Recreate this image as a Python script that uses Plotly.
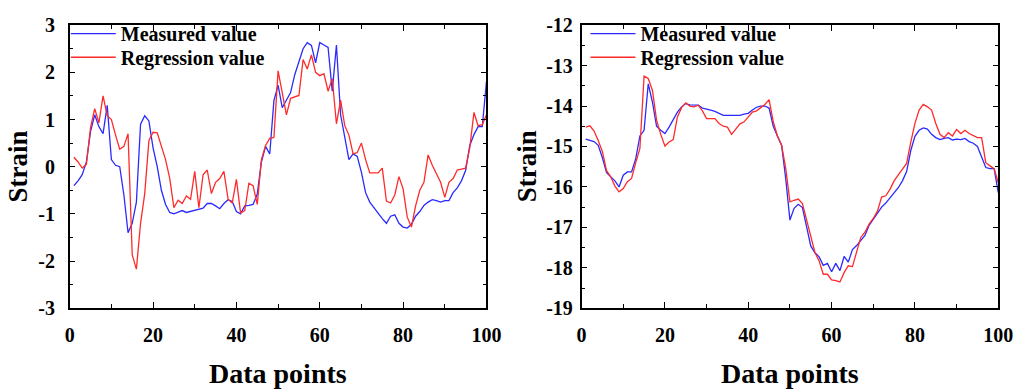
import plotly.graph_objects as go

x_points = list(range(1, 101))

left_measured = [-0.40, -0.30, -0.17, 0.10, 0.75, 1.10, 0.85, 0.70, 1.30, 0.15,
                 0.03, 0.00, -0.60, -1.40, -1.20, -0.75, 0.90, 1.08, 0.97, 0.40,
                 0.00, -0.50, -0.80, -0.97, -1.00, -0.96, -0.93, -0.97, -0.95, -0.93,
                 -0.91, -0.88, -0.78, -0.78, -0.83, -0.89, -0.78, -0.70, -0.74, -0.95,
                 -1.00, -0.83, -0.82, -0.80, -0.58, 0.10, 0.43, 0.27, 1.40, 1.73,
                 1.25, 1.42, 1.57, 1.95, 2.25, 2.50, 2.63, 2.57, 2.20, 2.63,
                 2.58, 2.53, 1.60, 2.58, 1.10, 0.63, 0.15, 0.27, 0.22, -0.12,
                 -0.55, -0.75, -0.87, -0.97, -1.10, -1.20, -1.05, -1.02, -1.20, -1.28,
                 -1.30, -1.22, -1.05, -0.95, -0.82, -0.75, -0.70, -0.72, -0.75, -0.72,
                 -0.72, -0.55, -0.45, -0.30, -0.08, 0.45, 0.68, 0.85, 0.85, 1.80]

left_regression = [0.20, 0.10, -0.03, 0.05, 0.83, 1.23, 0.93, 1.50, 1.08, 1.00,
                   0.67, 0.37, 0.43, 0.70, -1.87, -2.17, -1.20, -0.57, 0.55, 0.73,
                   0.72, 0.43, 0.15, -0.25, -0.87, -0.71, -0.78, -0.62, -0.69, -0.10,
                   -0.87, -0.17, -0.07, -0.57, -0.33, -0.25, -0.10, -0.69, -0.77, -0.27,
                   -0.98, -0.93, -0.35, -0.40, -0.80, 0.15, 0.45, 0.60, 0.62, 2.03,
                   1.55, 1.10, 1.45, 1.48, 1.51, 2.27, 2.07, 2.37, 2.00, 1.93,
                   1.97, 1.60, 1.87, 0.91, 1.41, 0.87, 0.67, 0.27, 0.30, 0.50,
                   0.15, -0.13, -0.13, -0.13, -0.03, -0.73, -0.77, -0.60, -0.21, -0.47,
                   -1.07, -1.28, -0.83, -0.50, -0.33, 0.25, 0.03, -0.15, -0.33, -0.65,
                   -0.33, -0.25, -0.07, -0.05, -0.03, 0.40, 1.15, 0.87, 0.89, 1.10]

right_measured = [-14.82, -14.85, -14.88, -14.97, -15.28, -15.65, -15.75, -15.85, -16.00, -15.71,
                  -15.63, -15.63, -15.30, -14.74, -14.60, -13.45, -13.90, -14.50, -14.60, -14.68,
                  -14.52, -14.33, -14.15, -14.02, -13.94, -13.97, -13.98, -13.98, -14.05, -14.07,
                  -14.10, -14.13, -14.18, -14.23, -14.23, -14.23, -14.23, -14.23, -14.20, -14.18,
                  -14.10, -14.03, -14.00, -14.00, -14.05, -14.50, -14.74, -14.97, -15.80, -16.82,
                  -16.53, -16.43, -16.51, -17.03, -17.46, -17.63, -17.73, -17.94, -17.89, -18.10,
                  -17.89, -18.07, -17.72, -17.86, -17.55, -17.45, -17.33, -17.20, -16.95, -16.80,
                  -16.62, -16.50, -16.40, -16.27, -16.15, -16.02, -15.85, -15.62, -15.10, -14.75,
                  -14.60, -14.54, -14.57, -14.70, -14.78, -14.83, -14.80, -14.78, -14.84, -14.82,
                  -14.83, -14.80, -14.88, -14.92, -15.00, -15.25, -15.52, -15.55, -15.55, -16.14]

right_regression = [-14.52, -14.49, -14.62, -14.85, -15.13, -15.60, -15.75, -15.98, -16.12, -16.04,
                    -15.87, -15.79, -15.40, -15.05, -13.26, -13.32, -13.61, -14.35, -14.70, -14.99,
                    -14.89, -14.83, -14.27, -14.04, -13.92, -14.00, -14.02, -13.98, -14.12, -14.31,
                    -14.31, -14.31, -14.43, -14.50, -14.52, -14.70, -14.57, -14.44, -14.39, -14.27,
                    -14.15, -14.12, -14.04, -13.96, -13.84, -14.39, -14.74, -14.97, -15.55, -16.37,
                    -16.33, -16.30, -16.41, -16.84, -17.23, -17.62, -17.83, -18.16, -18.16, -18.30,
                    -18.32, -18.35, -18.12, -17.95, -17.97, -17.58, -17.25, -17.12, -16.92, -16.78,
                    -16.60, -16.25, -16.22, -16.06, -15.85, -15.70, -15.55, -15.42, -14.89, -14.43,
                    -14.10, -13.96, -14.02, -14.10, -14.43, -14.70, -14.78, -14.66, -14.74, -14.58,
                    -14.68, -14.60, -14.68, -14.74, -14.78, -14.78, -15.40, -15.48, -15.55, -15.90]

series_names = ["Measured value", "Regression value"]
x_ticks = [0, 20, 40, 60, 80, 100]
left_y_ticks = [3, 2, 1, 0, -1, -2, -3]
right_y_ticks = [-12, -13, -14, -15, -16, -17, -18, -19]

W, H = 1028, 390
BLUE = "#2a2aff"
RED = "#ff2a2a"
FONT = "Liberation Serif"

fig = go.Figure()
fig.add_trace(go.Scatter(x=x_points, y=left_measured, mode="lines", name=series_names[0],
                         line=dict(color=BLUE, width=1.3), xaxis="x", yaxis="y", legend="legend"))
fig.add_trace(go.Scatter(x=x_points, y=left_regression, mode="lines", name=series_names[1],
                         line=dict(color=RED, width=1.3), xaxis="x", yaxis="y", legend="legend2"))
fig.add_trace(go.Scatter(x=x_points, y=right_measured, mode="lines", name=series_names[0],
                         line=dict(color=BLUE, width=1.3), xaxis="x2", yaxis="y2", legend="legend3"))
fig.add_trace(go.Scatter(x=x_points, y=right_regression, mode="lines", name=series_names[1],
                         line=dict(color=RED, width=1.3), xaxis="x2", yaxis="y2", legend="legend4"))

tickfont = dict(family=FONT, size=20, color="black", weight="bold")

def xaxis_cfg(domain, anchor):
    return dict(domain=domain, anchor=anchor, range=[0, 100], tickvals=x_ticks,
                ticktext=[str(v) for v in x_ticks],
                showline=True, linecolor="black", linewidth=1.5, mirror="allticks",
                ticks="inside", ticklen=6, tickwidth=1.3, tickcolor="black",
                ticklabelstandoff=8,
                minor=dict(dtick=10, tick0=0, ticks="inside", ticklen=4, tickwidth=1.2, tickcolor="black"),
                showgrid=False, zeroline=False, tickfont=tickfont)

def yaxis_cfg(domain, anchor, rng, ticks, standoff):
    return dict(domain=domain, anchor=anchor, range=rng, tickvals=ticks,
                ticktext=[str(v) for v in ticks],
                showline=True, linecolor="black", linewidth=1.5, mirror="allticks",
                ticks="inside", ticklen=6, tickwidth=1.3, tickcolor="black",
                ticklabelstandoff=standoff,
                minor=dict(dtick=0.5, tick0=0, ticks="inside", ticklen=4, tickwidth=1.2, tickcolor="black"),
                showgrid=False, zeroline=False, tickfont=tickfont)

def legend_cfg(px, py):
    return dict(x=px / W, y=1 - py / H, xanchor="left", yanchor="middle",
                bgcolor="rgba(0,0,0,0)", borderwidth=0, itemwidth=45,
                font=dict(family=FONT, size=20, color="black", weight="bold"))

ydom = [1 - 315 / H, 1 - 15 / H]
fig.update_layout(
    width=W, height=H,
    margin=dict(l=0, r=0, t=0, b=0),
    paper_bgcolor="white", plot_bgcolor="white",
    xaxis=xaxis_cfg([66 / W, 491 / W], "y"),
    yaxis=yaxis_cfg(ydom, "x", [-3, 3], left_y_ticks, 9),
    xaxis2=xaxis_cfg([588 / W, 1013 / W], "y2"),
    yaxis2=yaxis_cfg(ydom, "x2", [-19, -12], right_y_ticks, 3),
    legend=legend_cfg(62, 24),
    legend2=legend_cfg(62, 49),
    legend3=legend_cfg(592, 24),
    legend4=legend_cfg(592, 49),
    showlegend=True,
)

title_font = dict(family=FONT, size=28, color="black", weight="bold")
for xc in [(66 + 491) / 2 / W, (588 + 1013) / 2 / W]:
    fig.add_annotation(text="Data points", x=xc, y=1 - 384 / H, xref="paper", yref="paper",
                       showarrow=False, font=title_font, xanchor="center", yanchor="middle")
for xc in [13 / W, 532 / W]:
    fig.add_annotation(text="Strain", x=xc, y=1 - 165 / H, xref="paper", yref="paper",
                       showarrow=False, font=dict(family=FONT, size=27, color="black", weight="bold"),
                       textangle=-90, xanchor="center", yanchor="middle")

fig.write_html("out.html")
